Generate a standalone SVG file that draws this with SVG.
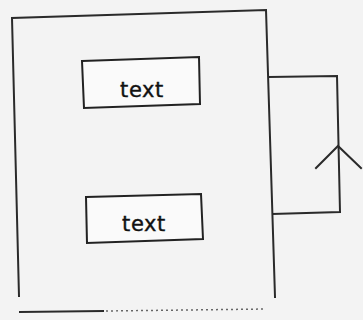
<svg xmlns="http://www.w3.org/2000/svg" width="363" height="320" viewBox="0 0 363 320">
<style>
.ln{fill:none;stroke:#2a2a2a;stroke-width:2;stroke-linejoin:miter;stroke-linecap:square}
.dt{fill:none;stroke:#666;stroke-width:1.5;stroke-dasharray:2 3}
.bx{fill:#fafafa;stroke:#222;stroke-width:2}
.t{font-family:"DejaVu Sans",sans-serif;font-size:21px;fill:#111;stroke:#111;stroke-width:0.4;text-anchor:middle;letter-spacing:0.6px}
</style>
<rect width="363" height="320" fill="#f3f3f3"/>
<g id="frame">
<polyline class="ln" points="19,296 12,18 266,10 275,297"/>
<line class="ln" x1="20" y1="312" x2="103" y2="311"/>
<line class="dt" x1="106" y1="311" x2="266" y2="309"/>
</g>
<g id="node1">
<polygon class="bx" points="82,61 199,57 200,104 84,108"/>
<text class="t" x="142" y="97">text</text>
</g>
<g id="node2">
<polygon class="bx" points="86,197 201,194 203,239 87,243"/>
<text class="t" x="144" y="231">text</text>
</g>
<g id="connectors">
<polyline class="ln" points="269,77 337,76 340,212 273,214"/>
<polyline class="ln" points="316,168 338,146 361,168"/>
</g>
</svg>
